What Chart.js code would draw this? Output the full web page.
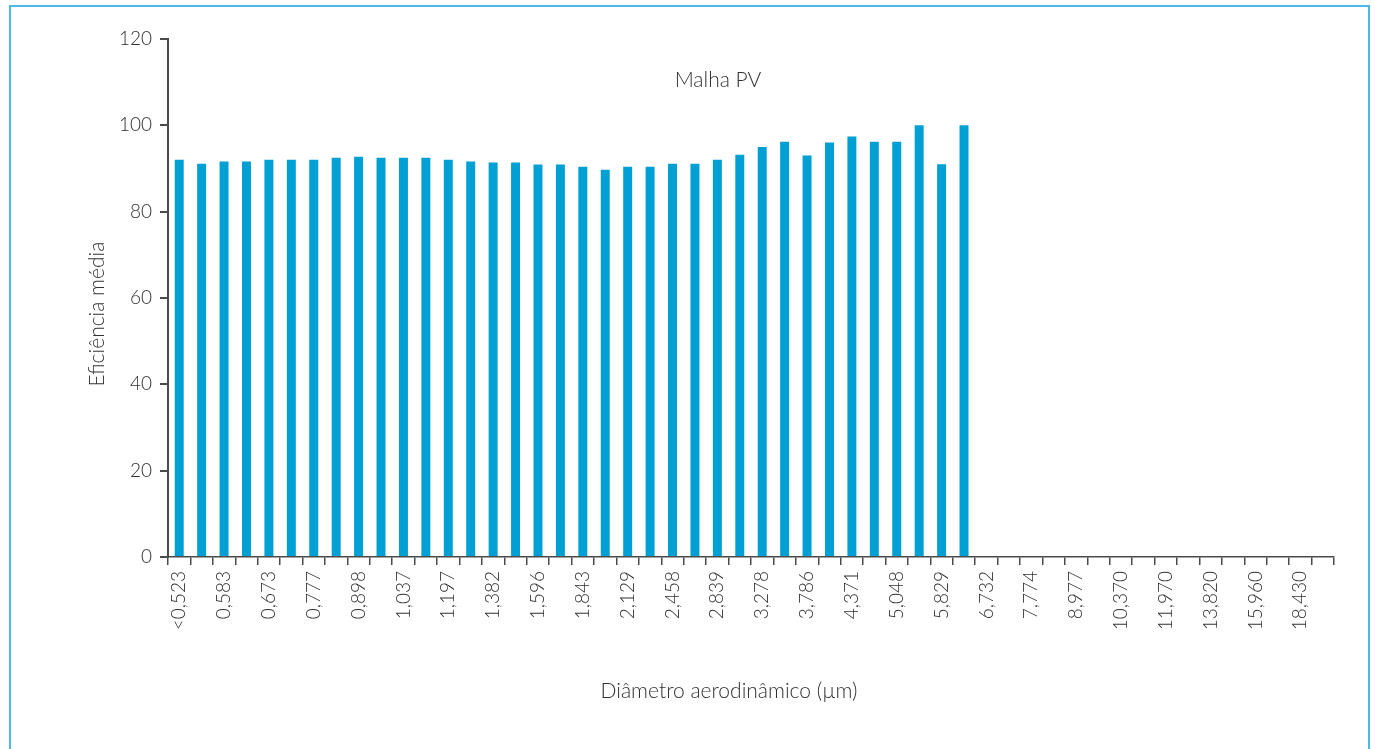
<!DOCTYPE html>
<html>
<head>
<meta charset="utf-8">
<script src="https://cdn.jsdelivr.net/npm/chart.js@4.4.1/dist/chart.umd.min.js"></script>
<style>
  html, body { margin: 0; padding: 0; background: #fff; }
  #wrap { position: relative; width: 1375px; height: 749px; overflow: hidden; }
  #frame { position: absolute; left: 9px; top: 5px; width: 1361px; height: 800px;
           border: 2px solid #4cb9e4; box-sizing: border-box; }
  canvas { position: absolute; left: 0; top: 0; }
</style>
</head>
<body>
<div id="wrap">
  <div id="frame"></div>
  <canvas id="grafico" width="1375" height="749"></canvas>
</div>
<script>
// Canais de diâmetro aerodinâmico (µm)
const diametros = ['<0,523','0,542','0,583','0,626','0,673','0,723','0,777','0,835','0,898','0,965',
  '1,037','1,114','1,197','1,286','1,382','1,486','1,596','1,715','1,843','1,981',
  '2,129','2,288','2,458','2,642','2,839','3,051','3,278','3,523','3,786','4,068',
  '4,371','4,698','5,048','5,425','5,829','6,264','6,732','7,234','7,774','8,354',
  '8,977','9,647','10,370','11,140','11,970','12,860','13,820','14,860','15,960','17,150',
  '18,430','19,810'];

// Eficiência média (%) por canal — Malha PV
const eficiencia = [92.0, 91.1, 91.6, 91.6, 92.0, 92.0, 92.0, 92.5, 92.7, 92.5,
  92.5, 92.5, 92.0, 91.6, 91.4, 91.4, 90.9, 90.9, 90.4, 89.7,
  90.4, 90.4, 91.1, 91.1, 92.0, 93.2, 95.0, 96.2, 93.0, 96.0,
  97.4, 96.2, 96.2, 100, 91.0, 100];

const yTicks = [0, 20, 40, 60, 80, 100, 120];

const serie = 'Malha PV';
const tituloX = 'Diâmetro aerodinâmico (µm)';
const tituloY = 'Eficiência média';

const FONTE = 'Lato, "Open Sans", sans-serif';
const COR_TEXTO = '#303030';
const COR_EIXO = '#4a4a4a';

// Títulos dos eixos e rótulo da série, posicionados em relação à área do gráfico
const textos = {
  id: 'textos',
  afterDraw(chart) {
    const { ctx, chartArea } = chart;
    ctx.save();
    ctx.fillStyle = COR_TEXTO;
    ctx.textAlign = 'center';
    ctx.textBaseline = 'alphabetic';
    ctx.font = '300 21px ' + FONTE;
    ctx.fillText(serie, chartArea.left + 550, chartArea.top + 48);
    ctx.fillText(tituloX, chartArea.left + 561, chartArea.bottom + 141);
    ctx.translate(chartArea.left - 64, chartArea.top + 275);
    ctx.rotate(-Math.PI / 2);
    ctx.fillText(tituloY, 0, 0);
    ctx.restore();
  }
};

new Chart(document.getElementById('grafico'), {
  type: 'bar',
  data: {
    labels: diametros,
    datasets: [{
      label: serie,
      data: eficiencia,
      backgroundColor: '#009fd4',
      borderWidth: 0,
      barPercentage: 0.4,
      categoryPercentage: 1.0
    }]
  },
  options: {
    responsive: false,
    animation: false,
    devicePixelRatio: 1,
    layout: { padding: { top: 39, right: 41, left: 0, bottom: 0 } },
    plugins: { legend: { display: false }, tooltip: { enabled: false } },
    scales: {
      x: {
        offset: true,
        grid: { offset: true, drawOnChartArea: false, tickLength: 8, color: COR_EIXO, lineWidth: 1.5 },
        border: { display: true, color: COR_EIXO, width: 1.5 },
        ticks: {
          autoSkip: false,
          maxRotation: 90,
          minRotation: 90,
          padding: 6,
          color: COR_TEXTO,
          font: { family: FONTE, size: 19, weight: 300 },
          callback: function (v, i) { return i % 2 === 0 ? diametros[i] : ''; }
        },
        afterFit(scale) { scale.height = 192; }
      },
      y: {
        min: 0,
        max: 120,
        afterBuildTicks(scale) { scale.ticks = yTicks.map(v => ({ value: v })); },
        grid: { drawOnChartArea: false, tickLength: 8, color: COR_EIXO, lineWidth: 2 },
        border: { display: true, color: COR_EIXO, width: 2 },
        ticks: {
          padding: 8,
          color: COR_TEXTO,
          font: { family: FONTE, size: 19, weight: 300 }
        },
        afterFit(scale) { scale.width = 168; }
      }
    }
  },
  plugins: [textos]
});
</script>
</body>
</html>
